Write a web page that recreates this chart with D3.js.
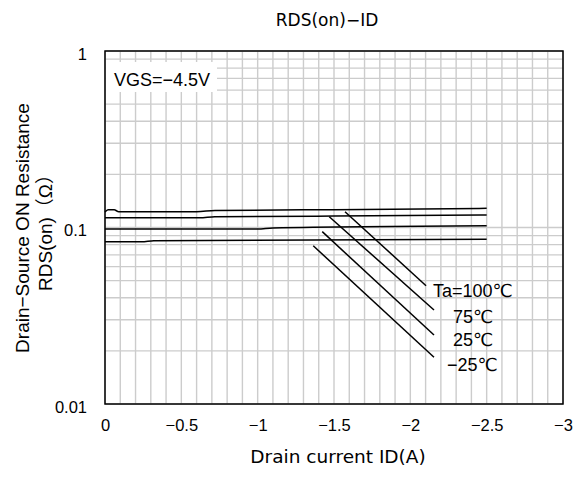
<!DOCTYPE html>
<html><head><meta charset="utf-8">
<script src="https://cdn.jsdelivr.net/npm/d3@7"></script>
<style>body{margin:0;background:#fff}svg{display:block}</style>
</head><body>
<svg id="c" width="582" height="479"></svg>
<script>
// ---- data ----
const xTicks = [0, -0.5, -1, -1.5, -2, -2.5, -3];
const xTickLabels = ["0", "−0.5", "−1", "−1.5", "−2", "−2.5", "−3"];
const yTicks = [0.01, 0.1, 1];
const yTickLabels = ["0.01", "0.1", "1"];

// flat (resistance-limited) part: [ID(A), RDS(on)(Ω)]
const flat100 = [[0, 0.1225], [-0.02, 0.1262], [-0.06, 0.1260], [-0.09, 0.1229], [-0.6, 0.1229], [-0.72, 0.1248], [-1.5, 0.1262], [-2.5, 0.1284]];
const flat75  = [[0, 0.1137], [-0.62, 0.1137], [-0.72, 0.1152], [-1.5, 0.1160], [-2.5, 0.1177]];
const flat25  = [[0, 0.0980], [-1.0, 0.0982], [-1.1, 0.0995], [-2.5, 0.1024]];
const flatM25 = [[0, 0.0831], [-0.24, 0.0831], [-0.32, 0.0842], [-2.5, 0.0858]];

// diagonal (current-limited) part
const diag100 = [[-1.572, 0.1229], [-2.103, 0.0468]];
const diag75  = [[-1.469, 0.1151], [-2.155, 0.0341]];
const diag25  = [[-1.423, 0.0947], [-2.155, 0.0246]];
const diagM25 = [[-1.364, 0.0788], [-2.155, 0.0184]];

const labelTexts = ["Ta=100℃", "75℃", "25℃", "−25℃"];
const labelI = [-2.148, -2.279, -2.279, -2.240];
const labelR = [0.0437, 0.0312, 0.0231, 0.01664];

// ---- drawing ----
const svg = d3.select("#c");
const L = 105, R = 563, T = 51, B = 404;
const x = d3.scaleLinear().domain([0, -3]).range([L, R]);
const y = d3.scaleLog().domain([0.01, 1]).range([B, T]);

const sans = "'Liberation Sans', 'Noto Sans CJK JP', sans-serif";
const wide = "'DejaVu Sans', sans-serif";

// grid
const vGrid = d3.range(0, 31).map(i => -i / 10);
const hGrid = [];
[0.01, 0.1].forEach(d => { for (let k = 1; k <= 9; k++) hGrid.push(d * k); });
hGrid.push(1);

const g = svg.append("g");
g.selectAll("line.v").data(vGrid).enter().append("line")
  .attr("x1", d => x(d)).attr("x2", d => x(d)).attr("y1", T).attr("y2", B)
  .attr("stroke", "#cccccc").attr("stroke-width", 1.4);
g.selectAll("line.h").data(hGrid).enter().append("line")
  .attr("x1", L).attr("x2", R).attr("y1", d => y(d)).attr("y2", d => y(d))
  .attr("stroke", "#cccccc").attr("stroke-width", 1.4);

// VGS label box
svg.append("rect").attr("x", L + 1).attr("y", 62).attr("width", 111).attr("height", 30).attr("fill", "#fff");
svg.append("text").attr("x", 114).attr("y", 86).attr("font-family", sans).attr("font-size", 18)
  .text("VGS=−4.5V");

// curves
const line = d3.line().x(d => x(d[0])).y(d => y(d[1])).curve(d3.curveMonotoneX);
[flat100, flat75, flat25, flatM25].forEach(s => {
  svg.append("path").attr("d", line(s)).attr("fill", "none").attr("stroke", "#000").attr("stroke-width", 1.5);
});
const lineL = d3.line().x(d => x(d[0])).y(d => y(d[1]));
[diag100, diag75, diag25, diagM25].forEach(s => {
  svg.append("path").attr("d", lineL(s)).attr("fill", "none").attr("stroke", "#000").attr("stroke-width", 1.5);
});

// frame
svg.append("rect").attr("x", L).attr("y", T).attr("width", R - L).attr("height", B - T)
  .attr("fill", "none").attr("stroke", "#000").attr("stroke-width", 1.5);

// axes via d3
const xAxis = d3.axisBottom(x).tickValues(xTicks).tickFormat((d, i) => xTickLabels[i]).tickSize(0).tickPadding(0);
const xg = svg.append("g").attr("transform", `translate(0,${B + 21})`).call(xAxis);
xg.select(".domain").remove();
xg.selectAll("text").attr("font-family", sans).attr("font-size", 16.5).attr("fill", "#000").attr("dy", "0.35em");

const yAxis = d3.axisLeft(y).tickValues(yTicks).tickFormat((d, i) => yTickLabels[i]).tickSize(0).tickPadding(0);
const yg = svg.append("g").attr("transform", `translate(${L - 18},0)`).call(yAxis);
yg.select(".domain").remove();
yg.selectAll("text").attr("font-family", sans).attr("font-size", 16.5).attr("fill", "#000").attr("dy", "0.5em");

// annotations
labelTexts.forEach((t, i) => {
  svg.append("text").attr("x", x(labelI[i])).attr("y", y(labelR[i])).attr("dy", "0.35em")
    .attr("font-family", "'Liberation Sans', 'DejaVu Sans', sans-serif").attr("font-size", 18).text(t);
});

// title and axis titles
svg.append("text").attr("x", 327).attr("y", 20).attr("dy", "0.35em").attr("text-anchor", "middle")
  .attr("font-family", wide).attr("font-size", 17).text("RDS(on)−ID");
svg.append("text").attr("x", 338).attr("y", 457).attr("dy", "0.35em").attr("text-anchor", "middle")
  .attr("font-family", wide).attr("font-size", 18.5).text("Drain current ID(A)");
const yl = svg.append("text").attr("transform", "translate(22,228) rotate(-90)")
  .attr("text-anchor", "middle").attr("font-family", sans).attr("font-size", 19);
yl.append("tspan").attr("x", 0).attr("dy", "0.35em").text("Drain−Source  ON Resistance");
yl.append("tspan").attr("x", 0).attr("dy", "1.25em").text("RDS(on)（Ω）");
</script>
</body></html>
